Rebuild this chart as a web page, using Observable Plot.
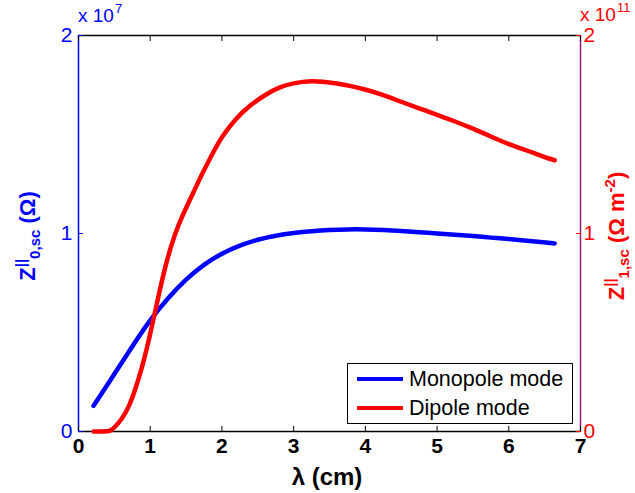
<!DOCTYPE html>
<html>
<head>
<meta charset="utf-8">
<script src="https://cdn.jsdelivr.net/npm/d3@7"></script>
<script src="https://cdn.jsdelivr.net/npm/@observablehq/plot@0.6"></script>
<style>
  html, body { margin: 0; padding: 0; background: #fff; }
  #wrap { position: relative; width: 635px; height: 493px; overflow: hidden; font-family: "Liberation Sans", Arial, sans-serif; }
  .abs { position: absolute; white-space: nowrap; }
  .ylab { position: absolute; white-space: nowrap; font-weight: bold; font-size: 22px; transform: translate(-50%, -50%) rotate(-90deg); }
  .ylab sup { font-size: 15px; vertical-align: 9px; }
  .ylab sub { font-size: 15px; vertical-align: -5px; }
  #legend { position: absolute; left: 347px; top: 363px; width: 226px; height: 61px; border: 1px solid #000; background: #fff; box-sizing: border-box; font-size: 21.5px; }
  #legend .row { position: absolute; left: 9px; height: 26px; display: flex; align-items: center; }
  #legend .sw { width: 46px; height: 4px; margin-right: 6px; }
</style>
</head>
<body>
<div id="wrap"></div>
<script>
// wavelength (cm) and monopole impedance (x 1e7 Ohm)
const lambdaMono = [0.21, 0.5, 0.75, 1.0, 1.25, 1.5, 1.75, 2.0, 2.25, 2.5, 2.75, 3.0, 3.25, 3.5, 3.75, 4.0, 4.25, 4.5, 4.75, 5.0, 5.25, 5.5, 5.75, 6.0, 6.25, 6.5, 6.64];
const monopole = [0.13, 0.29, 0.43, 0.565, 0.675, 0.77, 0.845, 0.90, 0.94, 0.97, 0.99, 1.003, 1.012, 1.018, 1.021, 1.021, 1.018, 1.013, 1.007, 1.0, 0.994, 0.987, 0.979, 0.972, 0.964, 0.955, 0.95];
// wavelength (cm) and dipole impedance (x 1e11 Ohm m^-2)
const lambdaDip = [0.21, 0.3, 0.4, 0.45, 0.5, 0.6, 0.7, 0.8, 0.9, 1.0, 1.1, 1.2, 1.3, 1.4, 1.5, 1.6, 1.7, 1.8, 1.9, 2.0, 2.2, 2.4, 2.6, 2.8, 3.0, 3.2, 3.4, 3.6, 3.8, 4.0, 4.25, 4.5, 4.75, 5.0, 5.25, 5.5, 5.75, 6.0, 6.25, 6.5, 6.64];
const dipole = [0, 0, 0, 0.005, 0.02, 0.06, 0.12, 0.22, 0.34, 0.49, 0.66, 0.82, 0.95, 1.05, 1.13, 1.205, 1.285, 1.355, 1.425, 1.49, 1.585, 1.65, 1.70, 1.74, 1.76, 1.77, 1.767, 1.758, 1.745, 1.728, 1.70, 1.665, 1.632, 1.60, 1.566, 1.53, 1.49, 1.45, 1.42, 1.385, 1.37];
const xTicks = [0, 1, 2, 3, 4, 5, 6, 7];
const yTicks = [0, 1, 2];
const seriesNames = ["Monopole mode", "Dipole mode"];
const seriesColors = ["#0000ff", "#ff0000"];

const monoData = lambdaMono.map((x, i) => ({x, y: monopole[i]}));
const dipData = lambdaDip.map((x, i) => ({x, y: dipole[i]}));

const chart = Plot.plot({
  width: 635,
  height: 493,
  marginLeft: 78,
  marginRight: 55,
  marginTop: 35,
  marginBottom: 62,
  style: {fontFamily: "Liberation Sans, Arial, sans-serif", background: "#fff"},
  x: {domain: [0, 7]},
  y: {domain: [0, 2]},
  marks: [
    Plot.ruleY([0], {stroke: "#000", strokeWidth: 1.5}),
    Plot.ruleY([2], {stroke: "#000", strokeWidth: 1.5}),
    Plot.ruleX([0], {stroke: "#0000ff", strokeWidth: 1.5}),
    Plot.ruleX([7], {stroke: "#a0147c", strokeWidth: 1.5}),
    Plot.axisX({anchor: "bottom", ticks: xTicks, tickSize: -5, tickPadding: 12, fontSize: 21, fontWeight: "bold", color: "#000", label: null, tickFormat: d => String(d)}),
    Plot.axisX({anchor: "top", ticks: xTicks, tickSize: -5, label: null, tickFormat: () => ""}),
    Plot.axisY({anchor: "left", ticks: yTicks, tickSize: -5, tickPadding: 11, fontSize: 21, color: "#0000ff", label: null, tickFormat: d => String(d)}),
    Plot.axisY({anchor: "right", ticks: yTicks, tickSize: -5, tickPadding: 8, fontSize: 21, color: "#ff0000", label: null, tickFormat: d => String(d)}),
    Plot.line(monoData, {x: "x", y: "y", stroke: seriesColors[0], strokeWidth: 4.5, curve: "basis"}),
    Plot.line(dipData, {x: "x", y: "y", stroke: seriesColors[1], strokeWidth: 4.5, curve: "basis"})
  ]
});

const wrap = document.getElementById("wrap");
wrap.appendChild(chart);

function addHTML(html) {
  const d = document.createElement("div");
  d.innerHTML = html;
  while (d.firstChild) wrap.appendChild(d.firstChild);
}

addHTML(`<div class="abs" style="left:78px; top:5px; font-size:19px; color:#0000ff;">x 10<span style="font-size:13px; position:relative; top:-9px; margin-left:1px;">7</span></div>`);
addHTML(`<div class="abs" style="left:580px; top:4px; font-size:19px; color:#ff0000;">x 10<span style="font-size:13px; position:relative; top:-9px; margin-left:1px;">11</span></div>`);
addHTML(`<div class="ylab" style="left:27px; top:236px; color:#0000ff;">Z<sup>||</sup><sub>0,sc</sub> (Ω)</div>`);
addHTML(`<div class="ylab" style="left:616px; top:236px; color:#ff0000;">Z<sup>||</sup><sub>1,sc</sub> (Ω m<sup>-2</sup>)</div>`);
addHTML(`<div class="abs" style="left:327px; top:477px; transform:translate(-50%,-50%); font-size:24px; font-weight:bold; color:#000;">λ (cm)</div>`);

const legend = document.createElement("div");
legend.id = "legend";
seriesNames.forEach((name, i) => {
  const row = document.createElement("div");
  row.className = "row";
  row.style.top = (2 + i * 29) + "px";
  row.innerHTML = `<div class="sw" style="background:${seriesColors[i]}"></div><span>${name}</span>`;
  legend.appendChild(row);
});
wrap.appendChild(legend);
</script>
</body>
</html>
